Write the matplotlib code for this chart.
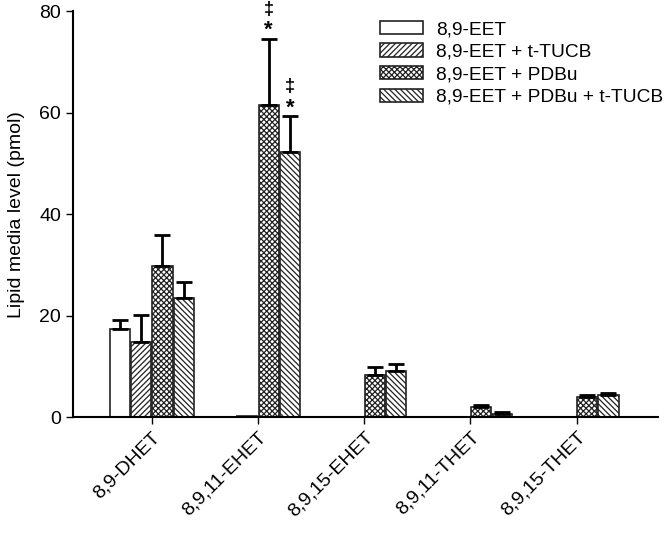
import numpy as np
import matplotlib
matplotlib.use("Agg")
import matplotlib.pyplot as plt

categories = ["8,9-DHET", "8,9,11-EHET", "8,9,15-EHET", "8,9,11-THET", "8,9,15-THET"]
series = ["8,9-EET", "8,9-EET + t-TUCB", "8,9-EET + PDBu", "8,9-EET + PDBu + t-TUCB"]

eet = [17.3, 0.0, 0.0, 0.0, 0.0]
eet_err = [1.9, 0.0, 0.0, 0.0, 0.0]
eet_tucb = [14.8, 0.3, 0.0, 0.0, 0.0]
eet_tucb_err = [5.3, 0.0, 0.0, 0.0, 0.0]
eet_pdbu = [29.7, 61.6, 8.3, 2.0, 4.0]
eet_pdbu_err = [6.1, 12.9, 1.5, 0.4, 0.4]
eet_pdbu_tucb = [23.4, 52.2, 9.1, 0.6, 4.4]
eet_pdbu_tucb_err = [3.2, 7.1, 1.4, 0.3, 0.4]

values = [eet, eet_tucb, eet_pdbu, eet_pdbu_tucb]
errors = [eet_err, eet_tucb_err, eet_pdbu_err, eet_pdbu_tucb_err]
hatches = ["", "//////", "xxxxxx", "\\\\\\\\\\\\"]

plt.rcParams["hatch.linewidth"] = 0.9
plt.rcParams["font.family"] = ["Liberation Sans", "DejaVu Sans"]

fig = plt.figure(figsize=(6.67, 5.34), dpi=100)
ax = fig.add_axes([0.109, 0.219, 0.878, 0.76])

x = np.arange(len(categories))
w = 0.2
for i in range(4):
    pos = x + (i - 1.5) * w
    ax.bar(pos, values[i], width=w * 0.95, color="white", edgecolor="#222222",
           linewidth=1.2, hatch=hatches[i], label=series[i])
    err = np.array(errors[i])
    mask = err > 0
    ax.errorbar(pos[mask], np.array(values[i])[mask], yerr=[np.zeros(mask.sum()), err[mask]],
                fmt="none", ecolor="black", elinewidth=2, capsize=6, capthick=2)

# significance marks above 8,9,11-EHET
for i, ci in [(2, 1), (3, 1)]:
    top = values[i][ci] + errors[i][ci]
    xp = ci + (i - 1.5) * w
    ax.annotate("*", (xp, top), xytext=(0, 3), textcoords="offset pixels",
                ha="center", va="baseline", fontsize=16, fontweight="bold",
                annotation_clip=False)
    ax.annotate("\u2021", (xp, top), xytext=(0, 25), textcoords="offset pixels",
                ha="center", va="baseline", fontsize=13, fontweight="bold",
                annotation_clip=False)

ax.set_xlim(-0.745, 4.77)
ax.set_ylim(0, 80)
ax.set_yticks([0, 20, 40, 60, 80])
ax.set_xticks(x)
ax.set_xticklabels(categories, rotation=45, ha="right", rotation_mode="anchor")
ax.tick_params(labelsize=14, width=1, length=5, direction="out")
ax.set_ylabel("Lipid media level (pmol)", fontsize=14, labelpad=10)
ax.spines["top"].set_visible(False)
ax.spines["right"].set_visible(False)
ax.spines["left"].set_linewidth(1.5)
ax.spines["bottom"].set_linewidth(1.5)

ax.legend(loc="upper left", bbox_to_anchor=(0.508, 1.0), frameon=False, fontsize=13.8,
          handlelength=2.25, handleheight=0.7, labelspacing=0.27, handletextpad=0.7,
          borderaxespad=0.1)

fig.savefig("out.png", dpi=100)
